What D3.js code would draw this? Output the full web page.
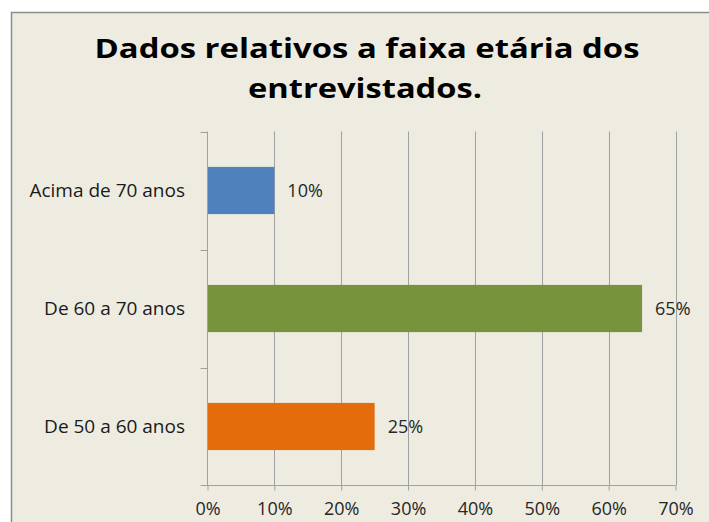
<!DOCTYPE html>
<html>
<head>
<meta charset="utf-8">
<script src="https://cdn.jsdelivr.net/npm/d3@7"></script>
<style>
  html, body { margin: 0; padding: 0; background: #ffffff; }
  svg { display: block; }
  text { font-family: "Open Sans", sans-serif; }
</style>
</head>
<body>
<svg id="chart" width="709" height="522"></svg>
<script>
const titleLines = ["Dados relativos a faixa etária dos", "entrevistados."];
const categories = ["Acima de 70 anos", "De 60 a 70 anos", "De 50 a 60 anos"];
const values = [10, 65, 25];
const barColors = ["#4F81BD", "#77933C", "#E46C0A"];
const xTicks = [0, 10, 20, 30, 40, 50, 60, 70];

(function () {
const svg = d3.select("#chart");
const W = 709, H = 522;

// frame (extends beyond the picture on right and bottom)
svg.append("rect")
  .attr("x", 11.5).attr("y", 12.5)
  .attr("width", W + 20).attr("height", H + 20)
  .attr("fill", "#EEECE1")
  .attr("stroke", "#8C8C8C").attr("stroke-width", 1.5);

// title
const title = svg.append("g");
const titleWidths = [545, 234];
const titleCenters = [367, 365];
const titleBase = [58, 98];
titleLines.forEach((t, i) => {
  title.append("text")
    .attr("x", titleCenters[i] - titleWidths[i] / 2).attr("y", titleBase[i])
    .attr("font-weight", "bold")
    .attr("font-size", 26)
    .attr("textLength", titleWidths[i])
    .attr("lengthAdjust", "spacingAndGlyphs")
    .attr("fill", "#000")
    .text(t);
});

// plot area
const pLeft = 207.5, pRight = 675.5, pTop = 131.5, pBottom = 485.5;
const x = d3.scaleLinear().domain([0, 70]).range([pLeft, pRight]);
const y = d3.scaleBand().domain(categories).range([pTop, pBottom]).paddingInner(0.6).paddingOuter(0.3);

const gridColor = "#A0A0A0";

// gridlines
svg.append("g").selectAll("line")
  .data(xTicks.filter(d => d > 0))
  .join("line")
  .attr("x1", d => Math.round(x(d)) + 0.5).attr("x2", d => Math.round(x(d)) + 0.5)
  .attr("y1", pTop).attr("y2", pBottom)
  .attr("stroke", gridColor).attr("stroke-width", 1);

// bars
svg.append("g").selectAll("rect")
  .data(categories)
  .join("rect")
  .attr("x", x(0))
  .attr("y", d => y(d))
  .attr("width", (d, i) => x(values[i]) - x(0))
  .attr("height", y.bandwidth())
  .attr("fill", (d, i) => barColors[i]);

// value labels
svg.append("g").selectAll("text")
  .data(categories)
  .join("text")
  .attr("x", (d, i) => x(values[i]) + 13)
  .attr("y", d => y(d) + y.bandwidth() / 2)
  .attr("dy", "0.36em")
  .attr("font-size", 18)
  .attr("fill", "#262626")
  .text((d, i) => values[i] + "%");

// bottom axis
const xAxis = d3.axisBottom(x).tickValues(xTicks).tickFormat(d => d + "%").tickSizeOuter(0).tickSize(5).tickPadding(12);
const gx = svg.append("g").attr("transform", `translate(0,${pBottom})`).call(xAxis);
gx.select(".domain").remove();
gx.append("line").attr("x1", pLeft - 7).attr("x2", pRight).attr("y1", 0).attr("y2", 0)
  .attr("stroke", gridColor);
gx.selectAll(".tick line").attr("stroke", gridColor);
gx.selectAll(".tick text")
  .attr("font-family", "Open Sans, sans-serif")
  .attr("font-size", 18).attr("fill", "#262626");

// left axis
const gy = svg.append("g");
gy.append("line").attr("x1", pLeft).attr("x2", pLeft).attr("y1", pTop).attr("y2", pBottom)
  .attr("stroke", gridColor);
const boundaries = [pTop, ...categories.map((d, i) => pTop + (pBottom - pTop) * (i + 1) / categories.length)];
gy.selectAll("line.tk")
  .data(boundaries.slice(0, -1))
  .join("line").attr("class", "tk")
  .attr("x1", pLeft - 7).attr("x2", pLeft)
  .attr("y1", d => Math.round(d) + 0.5).attr("y2", d => Math.round(d) + 0.5)
  .attr("stroke", gridColor);
gy.selectAll("text.cat")
  .data(categories)
  .join("text").attr("class", "cat")
  .attr("x", 185)
  .attr("y", d => y(d) + y.bandwidth() / 2)
  .attr("dy", "0.36em")
  .attr("text-anchor", "end")
  .attr("font-size", 19)
  .attr("fill", "#1a1a1a")
  .text(d => d);
})();
</script>
</body>
</html>
